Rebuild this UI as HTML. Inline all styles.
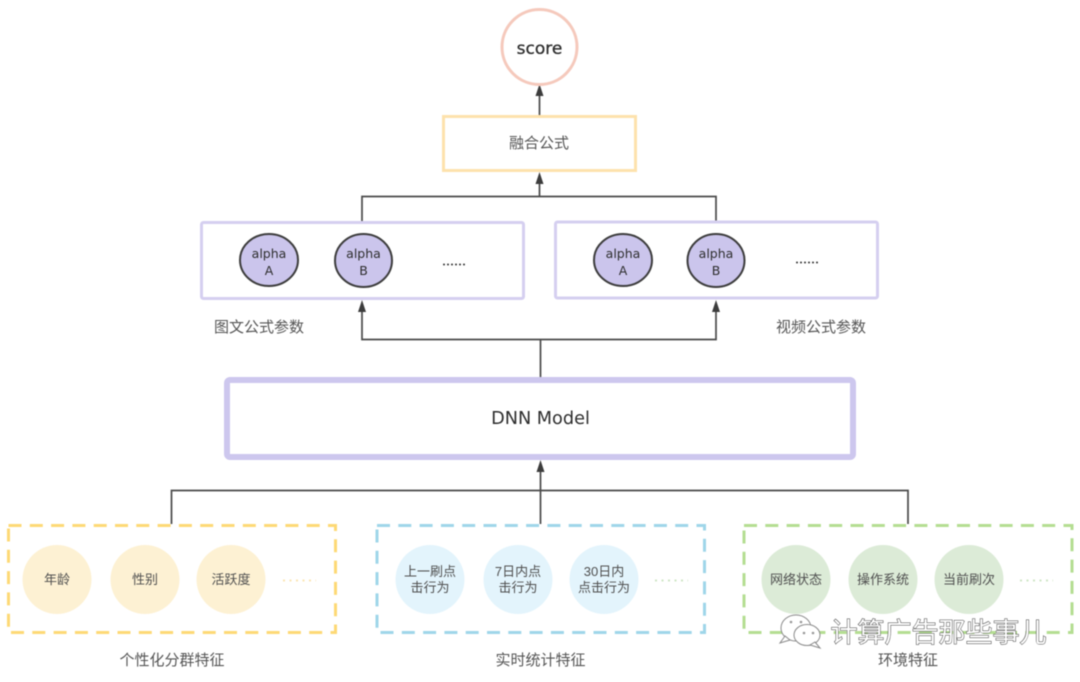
<!DOCTYPE html>
<html><head><meta charset="utf-8">
<style>
html,body{margin:0;padding:0;background:#fff;width:1080px;height:682px;overflow:hidden}
svg{display:block;filter:blur(.45px)}
text{font-family:"Liberation Sans","Noto Sans CJK SC",sans-serif;fill:#4a4a4a;text-anchor:middle}
.l{font-size:15px;fill:#555}
.s{font-size:13px;fill:#4f4f4f}
.e{font-family:"DejaVu Sans","Noto Sans CJK SC",sans-serif;font-size:12.500px;fill:#2e2e2e}
.c{fill:none;stroke:#4a4a4a;stroke-width:1.700}
.a{fill:#3c3c3c}
</style></head><body>
<svg width="1080" height="682" viewBox="0 0 1080 682" xmlns="http://www.w3.org/2000/svg">
<!-- connectors -->
<path class="c" d="M539.500 115V95"/><path class="a" d="M539.500 84l4 12h-8z"/>
<path class="c" d="M362 221V196.500H716V221M539.500 196.500V183"/><path class="a" d="M539.500 172l4 12h-8z"/>
<path class="c" d="M540.500 377V339.500H362V311M540.500 339.500H716V311"/>
<path class="a" d="M362 300l4 12h-8z"/><path class="a" d="M716 300l4 12h-8z"/>
<path class="c" d="M171.500 524V490.500H908V524M540.500 524V472"/><path class="a" d="M540.500 460l4 12h-8z"/>
<!-- score -->
<circle cx="539.500" cy="47" r="37.500" fill="#fff" stroke="#f5c9bc" stroke-width="3"/>
<text x="539.500" y="54" style="font-family:'DejaVu Sans',sans-serif;font-size:17px;fill:#2e2e2e;stroke:#2e2e2e;stroke-width:.3px">score</text>
<!-- fusion -->
<rect x="443.500" y="116.500" width="192" height="54" fill="#fff" stroke="#fde2ad" stroke-width="3"/>
<text class="l" x="539" y="148">融合公式</text>
<!-- parameter boxes -->
<rect x="201.500" y="222.500" width="322" height="76" rx="2" fill="#fff" stroke="#d5cff0" stroke-width="3"/>
<rect x="555.500" y="222" width="322" height="76" rx="2" fill="#fff" stroke="#d5cff0" stroke-width="3"/>
<g fill="#cbc5ec" stroke="#3d3d3d" stroke-width="2">
<ellipse cx="269" cy="260" rx="29" ry="26"/><ellipse cx="363.500" cy="260.500" rx="28.500" ry="26.500"/>
<ellipse cx="623" cy="260" rx="29" ry="26"/><ellipse cx="716" cy="260.500" rx="28.500" ry="26.500"/>
</g>
<text class="e" x="269" y="258">alpha</text><text class="e" x="269" y="275">A</text>
<text class="e" x="363.500" y="258">alpha</text><text class="e" x="363.500" y="275">B</text>
<text class="e" x="623" y="258">alpha</text><text class="e" x="623" y="275">A</text>
<text class="e" x="716" y="258">alpha</text><text class="e" x="716" y="275">B</text>
<g fill="#333"><circle cx="444" cy="264.500" r="1"/><circle cx="448" cy="264.500" r="1"/><circle cx="452" cy="264.500" r="1"/><circle cx="456" cy="264.500" r="1"/><circle cx="460" cy="264.500" r="1"/><circle cx="464" cy="264.500" r="1"/>
<circle cx="797" cy="262.500" r="1"/><circle cx="801" cy="262.500" r="1"/><circle cx="805" cy="262.500" r="1"/><circle cx="809" cy="262.500" r="1"/><circle cx="813" cy="262.500" r="1"/><circle cx="817" cy="262.500" r="1"/></g>
<text class="l" x="259" y="332">图文公式参数</text>
<text class="l" x="821" y="332">视频公式参数</text>
<!-- DNN -->
<rect x="227" y="380" width="626" height="77" rx="3" fill="#fff" stroke="#cdc7ee" stroke-width="6"/>
<text x="540.500" y="424" style="font-family:'DejaVu Sans',sans-serif;font-size:17.700px;fill:#2e2e2e">DNN Model</text>
<!-- dashed boxes -->
<rect x="8.500" y="525.500" width="327" height="107" fill="none" stroke="#fdd976" stroke-width="3" stroke-dasharray="13 8.300"/>
<rect x="377" y="525.500" width="327.500" height="107" fill="none" stroke="#9fd6e9" stroke-width="3" stroke-dasharray="13 8.300"/>
<rect x="744" y="525.500" width="328" height="107" fill="none" stroke="#b4de92" stroke-width="3" stroke-dasharray="13 8.300"/>
<!-- feature circles -->
<g fill="#fdf1d3"><circle cx="57" cy="579.500" r="34.500"/><circle cx="145" cy="579.500" r="34.500"/><circle cx="231" cy="579.500" r="34.500"/></g>
<g fill="#e3f4fc"><circle cx="430" cy="579.500" r="34.500"/><circle cx="518" cy="579.500" r="34.500"/><circle cx="604" cy="579.500" r="34.500"/></g>
<g fill="#dcebd7"><circle cx="796" cy="579.500" r="34.500"/><circle cx="883" cy="579.500" r="34.500"/><circle cx="969" cy="579.500" r="34.500"/></g>
<text class="s" x="57" y="584">年龄</text><text class="s" x="145" y="584">性别</text><text class="s" x="231" y="584">活跃度</text>
<text class="s" x="430" y="576">上一刷点</text><text class="s" x="430" y="592">击行为</text>
<text class="s" x="518" y="576">7日内点</text><text class="s" x="518" y="592">击行为</text>
<text class="s" x="604" y="576">30日内</text><text class="s" x="604" y="592">点击行为</text>
<text class="s" x="796" y="584">网络状态</text><text class="s" x="883" y="584">操作系统</text><text class="s" x="969" y="584">当前刷次</text>
<path d="M283 580.500H316" stroke="#fbe6b4" stroke-width="2" stroke-dasharray="2 4.500" fill="none"/>
<path d="M655 580.500H688" stroke="#cfe6c6" stroke-width="2" stroke-dasharray="2 4.500" fill="none"/>
<path d="M1020 580.500H1053" stroke="#cfe6c6" stroke-width="2" stroke-dasharray="2 4.500" fill="none"/>
<text class="l" x="172" y="665">个性化分群特征</text>
<text class="l" x="540.500" y="665">实时统计特征</text>
<text class="l" x="908" y="665">环境特征</text>
<!-- watermark -->
<g fill="#fff" stroke="#8a8a8a" stroke-width="1">
<ellipse cx="796" cy="628" rx="15" ry="13"/>
<path d="M785 636l-5 7 10-3z"/>
<ellipse cx="807" cy="635" rx="13" ry="10.500"/>
<path d="M815 642l5 6-10-3z" />
</g>
<g fill="#999"><circle cx="791" cy="622" r="1.300"/><circle cx="801" cy="622" r="1.300"/><circle cx="804" cy="633" r="1.300"/><circle cx="813" cy="633" r="1.300"/></g>
<text x="938.500" y="642" style="font-size:27px;fill:#fff;stroke:#444;stroke-width:1px;paint-order:stroke">计算广告那些事儿</text>
</svg>
</body></html>
